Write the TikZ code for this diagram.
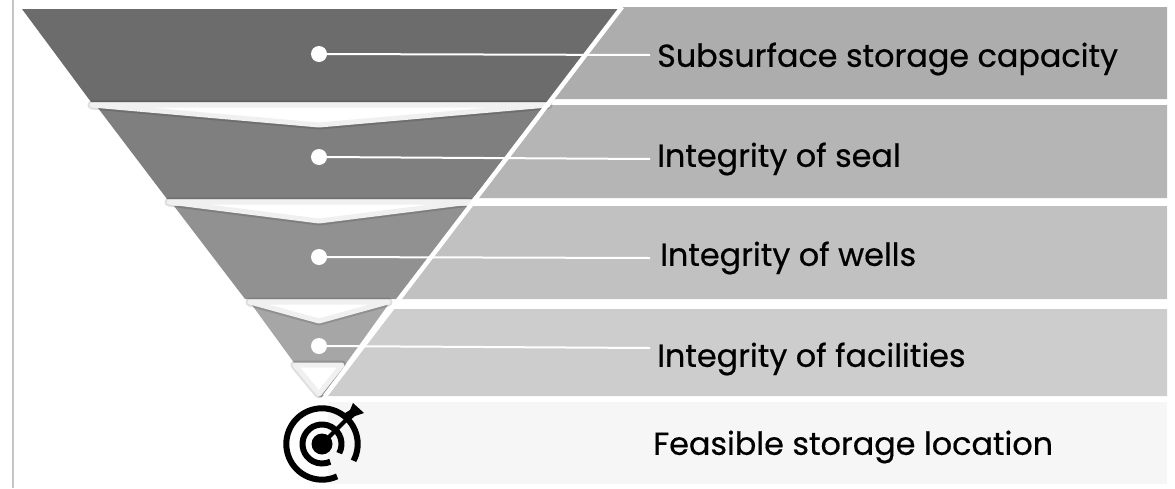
\documentclass[tikz,border=0pt]{standalone}
\usepackage{fontspec}
\setmainfont[FakeBold=0.5]{Poppins}
\definecolor{funnelA}{HTML}{6C6C6C}
\definecolor{funnelB}{HTML}{7F7F7F}
\definecolor{funnelC}{HTML}{919191}
\definecolor{funnelD}{HTML}{A6A6A6}
\definecolor{bandA}{HTML}{ADADAD}
\definecolor{bandB}{HTML}{B5B5B5}
\definecolor{bandC}{HTML}{C1C1C1}
\definecolor{bandD}{HTML}{CDCDCD}
\definecolor{bandE}{HTML}{F6F6F6}
\definecolor{rimgray}{HTML}{F0F0F0}
\tikzset{
  dotnode/.style={circle, fill=white, minimum size=16, inner sep=0},
  labelnode/.style={anchor=west, inner sep=0, font=\fontsize{31.8}{36}\selectfont},
  leader/.style={white, line width=2},
  chevron/.style={fill=white, draw=rimgray, line width=5, line join=round},
  chevshade/.style={draw=black, opacity=.13, line width=9, line join=round},
  ringline/.style={black, line width=6}
}
\begin{document}
\begin{tikzpicture}[x=1pt, y=-1pt]
\useasboundingbox (0, 0) rectangle (1175, 488);
\fill [white] (0, 0) rectangle (1175, 488);
\draw [gray!45, line width=1.5] (13, 0) -- (13, 488);
\fill [bandA] (623.5, 7) -- (1167, 7) -- (1167, 99) -- (553, 99) -- cycle;
\fill [bandB] (548, 105) -- (1167, 105) -- (1167, 198) -- (477, 198) -- cycle;
\fill [bandC] (471, 206) -- (1167, 206) -- (1167, 299) -- (399, 299) -- cycle;
\fill [bandD] (392, 309) -- (1167, 309) -- (1167, 396) -- (325, 396) -- cycle;
\fill [bandE] (328, 402) -- (1167, 402) -- (1167, 484) -- (328, 484) -- cycle;
\fill [funnelA] (22, 9) -- (620, 9) -- (552, 102) -- (91, 102) -- cycle;
\fill [funnelB] (98, 108) -- (548, 108) -- (472, 199) -- (167, 199) -- cycle;
\fill [funnelC] (174, 206) -- (470, 206) -- (397, 299) -- (245, 299) -- cycle;
\fill [funnelD] (252, 305) -- (388, 305) -- (322, 397) -- (319, 397) -- cycle;
\path [chevshade] (92, 105) -- (548, 105) -- (319, 125) -- cycle;
\path [chevshade] (169, 202) -- (470, 202) -- (319, 221) -- cycle;
\path [chevshade] (250, 302) -- (388, 302) -- (319, 321) -- cycle;
\path [chevshade] (295, 365) -- (342, 365) -- (319, 394) -- cycle;
\draw [chevron] (92, 105) -- (548, 105) -- (319, 125) -- cycle;
\draw [chevron] (169, 202) -- (470, 202) -- (319, 221) -- cycle;
\draw [chevron] (250, 302) -- (388, 302) -- (319, 321) -- cycle;
\draw [chevron] (295, 365) -- (342, 365) -- (319, 394) -- cycle;
\coordinate (edgetop) at (622, 7);
\coordinate (edgebottom) at (325, 396);
\draw [white, line width=4.5] (edgetop) -- (edgebottom);
\node [dotnode] (dotA) at (319, 54) {};
\node [dotnode] (dotB) at (319, 157) {};
\node [dotnode] (dotC) at (319, 257) {};
\node [dotnode] (dotD) at (319, 346) {};
\coordinate (endA) at (650, 55);
\coordinate (endB) at (650, 159);
\coordinate (endC) at (650, 258);
\coordinate (endD) at (650, 348);
\draw [leader] (dotA) -- (endA);
\draw [leader] (dotB) -- (endB);
\draw [leader] (dotC) -- (endC);
\draw [leader] (dotD) -- (endD);
\node [labelnode] (labelA) at (657, 59) {Subsurface storage capacity};
\node [labelnode] (labelB) at (657, 159) {Integrity of seal};
\node [labelnode] (labelC) at (660, 258) {Integrity of wells};
\node [labelnode] (labelD) at (657, 359) {Integrity of facilities};
\node [labelnode] (labelE) at (653, 447) {Feasible storage location};
\fill (322, 444) circle (10.5);
\draw [ringline] (322, 444) ++(28:35.7) arc (28:-295:35.7);
\draw [ringline] (322, 444) ++(28:19.5) arc (28:-295:19.5);
\draw [black, line width=4] (322, 444) -- (350, 416);
\fill (353, 403) -- (364, 413) -- (355, 416) -- (347, 423) -- (342, 415) -- (350, 410) -- cycle;
\end{tikzpicture}
\end{document}
